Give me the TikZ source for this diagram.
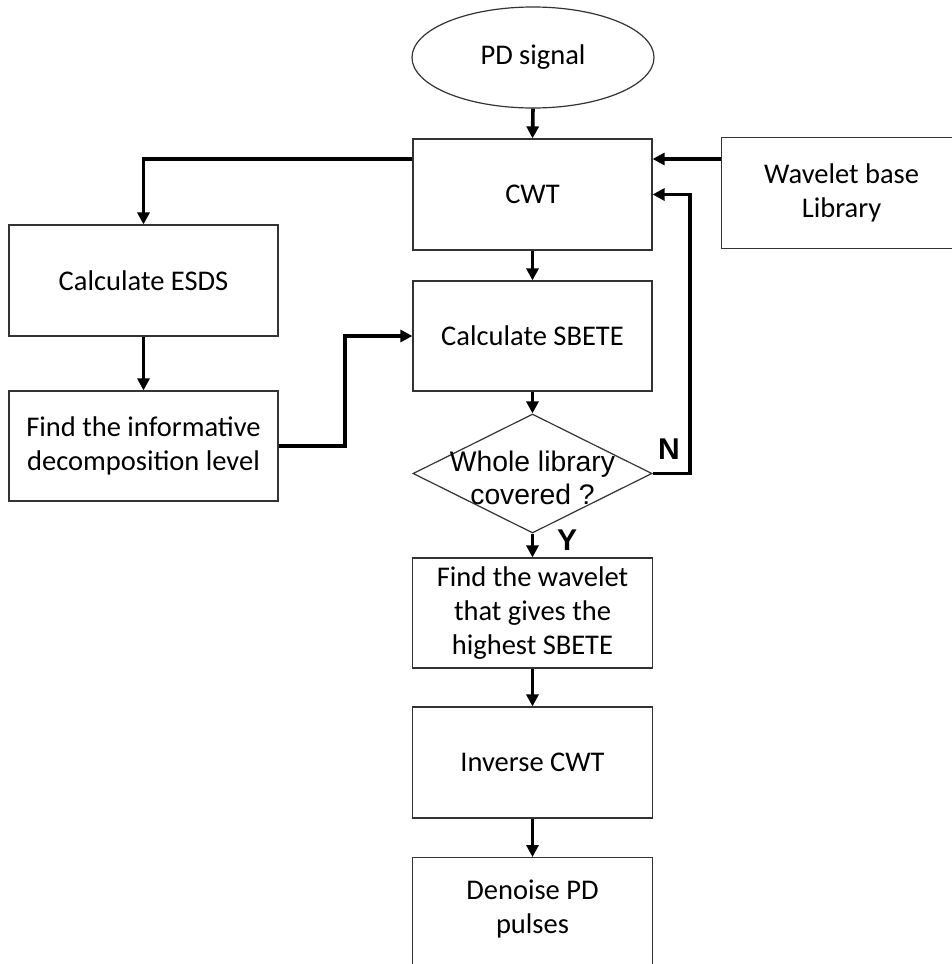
\documentclass[tikz,border=0pt]{standalone}
\usepackage{fontspec}
\setmainfont{Carlito}
\newfontfamily\arialfont{Liberation Sans}
\usetikzlibrary{shapes.geometric,arrows.meta}
\tikzset{
  txt/.style={font=\fontsize{28.5}{34}\selectfont},
  box/.style={draw=black!80, line width=1.2pt, rectangle, inner sep=0pt, align=center, txt},
  conn/.style={line width=3.6pt, -{Triangle[length=12pt,width=12pt]}},
  yn/.style={font=\arialfont\bfseries\fontsize{30}{34}\selectfont, inner sep=0pt}
}
\begin{document}
\begin{tikzpicture}[x=1pt,y=-1pt]
\clip (0,0) rectangle (952,964);
\fill[white] (0,0) rectangle (952,964);
% nodes
\node[ellipse, draw=black!80, line width=1.2pt, minimum width=242pt, minimum height=101pt, inner sep=0pt, txt] (pd) at (533,57.5) {PD signal};
\node[box, minimum width=239pt, minimum height=111pt] (cwt) at (532.5,194.5) {CWT};
\node[box, minimum width=240pt, minimum height=111pt, anchor=north west] (lib) at (721,137) {Wavelet base\\Library};
\node[box, minimum width=269pt, minimum height=111pt] (esds) at (143.5,280.5) {Calculate ESDS};
\node[box, minimum width=239pt, minimum height=110pt] (sbete) at (532.5,336) {Calculate SBETE};
\node[box, minimum width=269pt, minimum height=110pt] (info) at (143.5,446) {Find the informative\\decomposition level};
\node[diamond, draw=black!80, line width=1.2pt, minimum width=239pt, minimum height=119pt, inner sep=0pt] (dec) at (532.5,473.5) {};
\node[font=\arialfont\fontsize{28.3}{33}\selectfont, align=center, inner sep=0pt] (dectext) at (532.5,478) {Whole library\\covered ?};
\node[box, minimum width=240pt, minimum height=110pt] (wav) at (532.5,613) {Find the wavelet\\that gives the\\highest SBETE};
\node[box, minimum width=240pt, minimum height=111pt] (inv) at (532.5,762.5) {Inverse CWT};
\node[box, minimum width=240pt, minimum height=120pt, anchor=north] (den) at (532.5,857) {};
\node[txt, align=center, inner sep=0pt] (dentext) at (532.5,909) {Denoise PD\\pulses};
\node[yn] (nlab) at (669,449) {N};
\node[yn] (ylab) at (567,540) {Y};
% connectors
\coordinate (cwtL) at (cwt.west |- 0,159);
\coordinate (cwtR1) at (cwt.east |- 0,159);
\coordinate (sbeteL) at (sbete.west);
\draw[conn] (pd.south) -- (cwt.north);
\draw[conn] (lib.west |- cwtR1) -- (cwtR1);
\draw[conn] (cwtL) -| (esds.north);
\draw[conn] (esds.south) -- (info.north);
\draw[conn] (info.east) -- (345,446) |- (sbeteL);
\draw[conn] (cwt.south) -- (sbete.north);
\draw[conn] (sbete.south) -- (dec.north);
\draw[conn] (dec.east) -- (690,473.5) |- (cwt.east);
\draw[conn] (dec.south) -- (wav.north);
\draw[conn] (wav.south) -- (inv.north);
\draw[conn] (inv.south) -- (den.north);
\end{tikzpicture}
\end{document}
